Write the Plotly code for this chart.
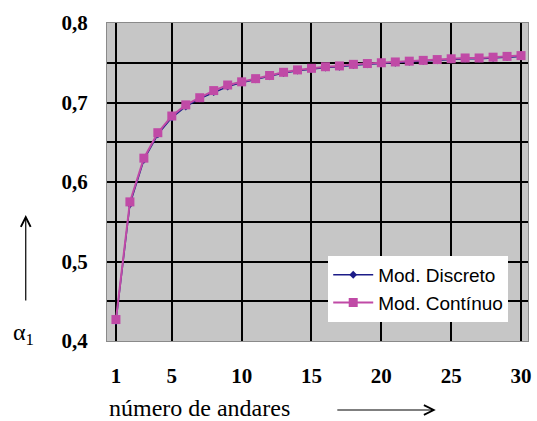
import plotly.graph_objects as go

andares = list(range(1, 31))
mod_continuo = [0.427, 0.575, 0.630, 0.662, 0.683, 0.697, 0.706, 0.715, 0.722, 0.726,
                0.730, 0.734, 0.738, 0.741, 0.743, 0.745, 0.746, 0.748, 0.749, 0.750,
                0.751, 0.752, 0.753, 0.754, 0.755, 0.756, 0.756, 0.757, 0.758, 0.759]
mod_discreto = [0.425, 0.572, 0.628, 0.660, 0.681, 0.695, 0.705, 0.713, 0.720, 0.725,
                0.729, 0.733, 0.737, 0.740, 0.742, 0.744, 0.745, 0.747, 0.748, 0.749,
                0.750, 0.751, 0.752, 0.753, 0.754, 0.755, 0.755, 0.756, 0.757, 0.758]
x_ticks = [1, 5, 10, 15, 20, 25, 30]
y_ticks = [0.4, 0.5, 0.6, 0.7, 0.8]
y_tick_text = ["0,4", "0,5", "0,6", "0,7", "0,8"]

fig = go.Figure()
fig.add_trace(go.Scatter(
    x=andares, y=mod_discreto, name="Mod. Discreto", mode="lines+markers",
    line=dict(color="#1c1c88", width=1.5),
    marker=dict(symbol="diamond", size=6, color="#1c1c88"),
))
fig.add_trace(go.Scatter(
    x=andares, y=mod_continuo, name="Mod. Contínuo", mode="lines+markers",
    line=dict(color="#c04aa6", width=2),
    marker=dict(symbol="square", size=9, color="#c04aa6"),
))

tick_font = dict(family="Liberation Serif", size=21, color="black", weight="bold")

fig.update_layout(
    width=537, height=421,
    margin=dict(l=107, r=6, t=23, b=80),
    paper_bgcolor="white",
    plot_bgcolor="#c6c6c6",
    showlegend=True,
    legend=dict(
        x=0.953, y=0.06, xanchor="right", yanchor="bottom",
        bgcolor="white", borderwidth=0,
        font=dict(family="Liberation Sans", size=19, color="black"),
        tracegroupgap=0, itemwidth=40,
    ),
    xaxis=dict(
        range=[0.36, 30.5], tickvals=x_ticks,
        showgrid=True, gridcolor="black", gridwidth=2,
        zeroline=False, showline=True, linecolor="#8a8a8a", linewidth=1, mirror=True,
        ticks="outside", ticklen=16, tickcolor="rgba(0,0,0,0)",
        tickfont=tick_font,
    ),
    yaxis=dict(
        range=[0.4, 0.8], tickvals=y_ticks, ticktext=y_tick_text,
        showgrid=True, gridcolor="black", gridwidth=2,
        minor=dict(dtick=0.05, tick0=0.4, showgrid=True, gridcolor="black", gridwidth=2),
        zeroline=False, showline=True, linecolor="#8a8a8a", linewidth=1, mirror=True,
        ticks="outside", ticklen=14, tickcolor="rgba(0,0,0,0)",
        tickfont=tick_font,
    ),
    annotations=[
        dict(text="número de andares", xref="paper", yref="paper", x=0.0, y=-0.212,
             xanchor="left", yanchor="middle", showarrow=False,
             font=dict(family="Liberation Serif", size=24, color="black")),
        dict(text="", xref="paper", yref="paper", x=0.781, y=-0.217,
             ax=-100, ay=0, showarrow=True, arrowhead=5, arrowsize=1.6,
             arrowwidth=1.2, arrowcolor="black"),
        dict(text="", xref="paper", yref="paper", x=-0.193, y=0.396,
             ax=0, ay=87, showarrow=True, arrowhead=5, arrowsize=1.6,
             arrowwidth=1.2, arrowcolor="black"),
        dict(text="α<sub>1</sub>", xref="paper", yref="paper", x=-0.198, y=0.022,
             xanchor="center", yanchor="middle", showarrow=False,
             font=dict(family="Liberation Serif", size=24, color="black")),
    ],
)

fig.write_html("out.html", config={"displayModeBar": False},
               post_script="document.body.style.margin='0';document.body.style.overflow='hidden';")
